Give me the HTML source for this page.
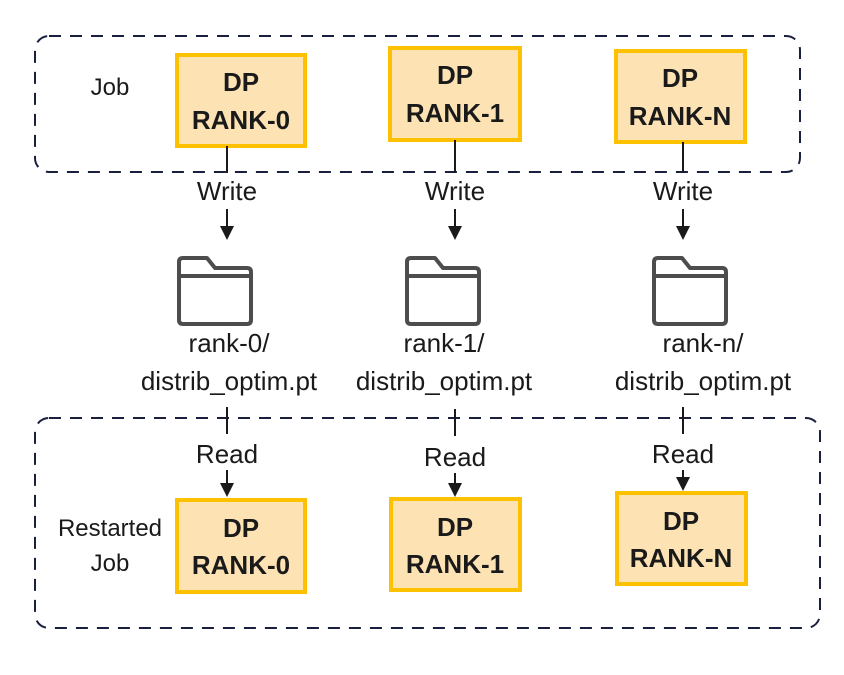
<!DOCTYPE html>
<html><head><style>body{margin:0;background:#fff}</style></head><body>
<svg width="844" height="670" xmlns="http://www.w3.org/2000/svg" font-family="Liberation Sans, DejaVu Sans, sans-serif">
<defs>
<g id="f" fill="none" stroke="#4d4d4d" stroke-width="4" stroke-linejoin="round"><path d="M2,6 q0,-4 4,-4 h24 l8,10 h32 q4,0 4,4 v48 q0,4 -4,4 h-64 q-4,0 -4,-4 z M2,20 h72"/></g></defs>
<rect x="35" y="36" width="765" height="136" rx="14" fill="none" stroke="#1a1f3d" stroke-width="2" stroke-dasharray="12,9"/>
<rect x="35" y="418" width="785" height="210" rx="14" fill="none" stroke="#1a1f3d" stroke-width="2" stroke-dasharray="12,9"/>
<g fill="#fde3b4" stroke="#fdc100" stroke-width="4">
<rect x="177" y="55" width="128" height="91"/><rect x="390" y="48" width="130" height="92"/><rect x="616" y="51" width="129" height="91"/>
<rect x="177" y="500" width="128" height="92"/><rect x="391" y="499" width="129" height="91"/><rect x="617" y="493" width="129" height="91"/>
</g>
<g font-weight="bold" font-size="26" text-anchor="middle" fill="#1a1a1a">
<text x="241" y="91">DP</text><text x="241" y="129">RANK-0</text>
<text x="455" y="84">DP</text><text x="455" y="122">RANK-1</text>
<text x="680" y="87">DP</text><text x="680" y="125">RANK-N</text>
<text x="241" y="537">DP</text><text x="241" y="574">RANK-0</text>
<text x="455" y="536">DP</text><text x="455" y="573">RANK-1</text>
<text x="681" y="530">DP</text><text x="681" y="567">RANK-N</text>
</g>
<g stroke="#1a1a1a" stroke-width="2">
<line x1="227" y1="146" x2="227" y2="173"/><line x1="455" y1="140" x2="455" y2="173"/><line x1="683" y1="142" x2="683" y2="173"/>
<line x1="227" y1="209" x2="227" y2="228"/><line x1="455" y1="209" x2="455" y2="228"/><line x1="683" y1="209" x2="683" y2="228"/>
<line x1="227" y1="407" x2="227" y2="434"/><line x1="455" y1="409" x2="455" y2="436"/><line x1="683" y1="407" x2="683" y2="434"/>
<line x1="227" y1="470" x2="227" y2="484"/><line x1="455" y1="473" x2="455" y2="484"/><line x1="683" y1="470" x2="683" y2="478"/>
</g>
<g fill="#1a1a1a">
<path d="M220,226 h14 l-7,14 z"/><path d="M448,226 h14 l-7,14 z"/><path d="M676,226 h14 l-7,14 z"/>
<path d="M220,483 h14 l-7,14 z"/><path d="M448,483 h14 l-7,14 z"/><path d="M676,477 h14 l-7,14 z"/>
</g>
<use href="#f" x="177" y="256"/><use href="#f" x="405" y="256"/><use href="#f" x="652" y="256"/>
<g font-size="26" text-anchor="middle" fill="#1a1a1a">
<text x="227" y="200">Write</text><text x="455" y="200">Write</text><text x="683" y="200">Write</text>
<text x="227" y="463">Read</text><text x="455" y="466">Read</text><text x="683" y="463">Read</text>
<text x="229" y="352">rank-0/</text><text x="229" y="390">distrib_optim.pt</text>
<text x="444" y="352">rank-1/</text><text x="444" y="390">distrib_optim.pt</text>
<text x="703" y="352">rank-n/</text><text x="703" y="390">distrib_optim.pt</text>
</g>
<g font-size="24" text-anchor="middle" fill="#1a1a1a">
<text x="110" y="95">Job</text>
<text x="110" y="536">Restarted</text><text x="110" y="571">Job</text>
</g>
</svg>
</body></html>
